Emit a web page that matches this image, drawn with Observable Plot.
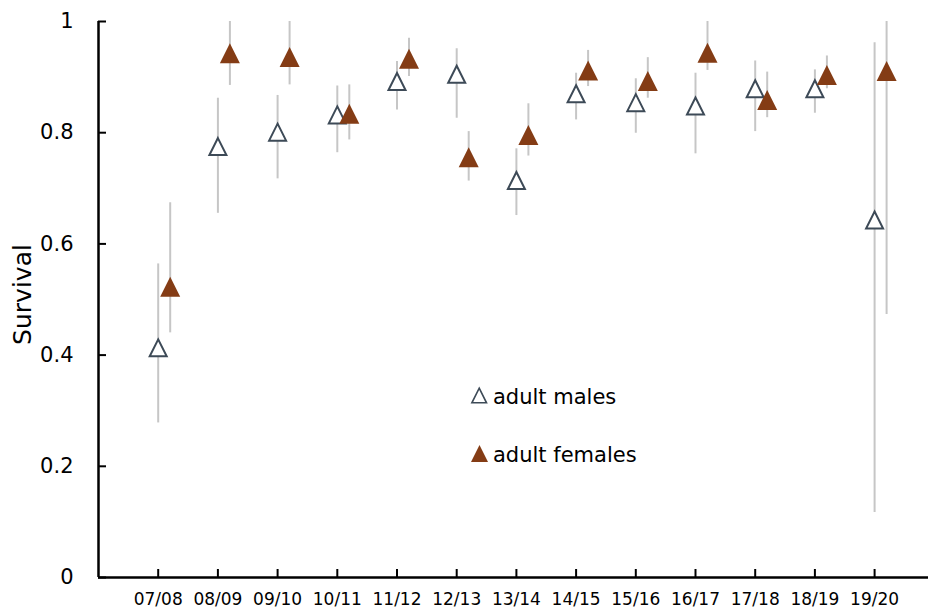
<!DOCTYPE html>
<html>
<head>
<meta charset="utf-8">
<script src="https://cdn.jsdelivr.net/npm/d3@7"></script>
<script src="https://cdn.jsdelivr.net/npm/@observablehq/plot@0.6"></script>
<style>
  html, body { margin: 0; padding: 0; background: #fff; }
  #chart svg { display: block; }
</style>
</head>
<body>
<div id="chart"></div>
<script>
const years = ["07/08","08/09","09/10","10/11","11/12","12/13","13/14","14/15","15/16","16/17","17/18","18/19","19/20"];
const maleS  = [0.413,0.775,0.801,0.832,0.892,0.905,0.714,0.870,0.854,0.848,0.879,0.879,0.643];
const maleLo = [0.278,0.655,0.717,0.764,0.841,0.826,0.651,0.823,0.799,0.762,0.802,0.835,0.117];
const maleHi = [0.564,0.862,0.867,0.884,0.928,0.951,0.771,0.907,0.897,0.907,0.929,0.913,0.962];
const femS   = [0.523,0.943,0.936,0.834,0.933,0.756,0.796,0.912,0.893,0.944,0.859,0.904,0.911];
const femLo  = [0.440,0.885,0.886,0.787,0.901,0.713,0.758,0.883,0.862,0.912,0.827,0.879,0.473];
const femHi  = [0.674,1.000,1.000,0.886,0.970,0.802,0.852,0.948,0.935,1.000,0.909,0.938,1.000];
const yTicks = [0, 0.2, 0.4, 0.6, 0.8, 1];
const legendLabels = ["adult males", "adult females"];

const males = years.map((y, k) => ({i: k + 1, s: maleS[k], lo: maleLo[k], hi: maleHi[k]}));
const fems  = years.map((y, k) => ({i: k + 1, s: femS[k], lo: femLo[k], hi: femHi[k]}));
const xIdx = years.map((y, k) => k + 1);

const tri = {draw(ctx, size) {
  const r = Math.sqrt(size / Math.PI);
  ctx.moveTo(0, -r); ctx.lineTo(r, r); ctx.lineTo(-r, r); ctx.closePath();
}};

const maleColor = "#3d4a57", femColor = "#843c15", barColor = "#c6c6c6";
const W = 928, H = 613, mL = 98, mR = 0;
const step = 59.7;

const chart = Plot.plot({
  width: W, height: H,
  marginLeft: mL, marginRight: mR, marginTop: 21, marginBottom: 36,
  style: {fontFamily: "DejaVu Sans", background: "#fff", color: "#000"},
  x: {type: "linear", domain: [0, (W - mL - mR) / step]},
  y: {domain: [0, 1]},
  marks: [
    Plot.axisY({ticks: yTicks, tickSize: 0, tickPadding: 25, fontSize: 21,
      tickFormat: d => d === 0 ? "0" : d === 1 ? "1" : d.toFixed(1), label: null}),
    Plot.axisX({ticks: xIdx, tickSize: 0, tickPadding: 15, fontSize: 17,
      tickFormat: i => years[i - 1], label: null}),
    Plot.tickY(yTicks, {y: d => d, stroke: "#000", strokeWidth: 2, insetRight: (W - mL - mR) - 8}),
    Plot.tickX(xIdx, {x: d => d, stroke: "#000", strokeWidth: 2, insetTop: (H - 21 - 36) - 8}),
    Plot.ruleY([0], {stroke: "#000", strokeWidth: 2.5}),
    Plot.ruleX([0], {stroke: "#000", strokeWidth: 2.5}),
    Plot.text(["Survival"], {frameAnchor: "left", textAnchor: "middle", lineAnchor: "middle", rotate: -90, dx: -76, dy: -5, fontSize: 25, fill: "#000"}),
    Plot.ruleX(males, {x: "i", y1: "lo", y2: "hi", stroke: barColor, strokeWidth: 2}),
    Plot.ruleX(fems, {x: "i", y1: "lo", y2: "hi", stroke: barColor, strokeWidth: 2, dx: 12}),
    Plot.dot(males, {x: "i", y: "s", symbol: tri, r: 8.5, fill: "#fff", stroke: maleColor, strokeWidth: 2}),
    Plot.dot(fems, {x: "i", y: "s", symbol: tri, r: 10, fill: femColor, stroke: "none", dx: 12}),
    // legend
    Plot.dot([legendLabels[0]], {frameAnchor: "top-left", dx: 380.7, dy: 374, symbol: tri, r: 7.3, fill: "#fff", stroke: maleColor, strokeWidth: 1.6}),
    Plot.dot([legendLabels[1]], {frameAnchor: "top-left", dx: 381, dy: 432, symbol: tri, r: 8.5, fill: femColor, stroke: "none"}),
    Plot.text([legendLabels[0]], {frameAnchor: "top-left", text: d => d, dx: 394.5, dy: 375.3, textAnchor: "start", lineAnchor: "middle", fontSize: 21, fill: "#000"}),
    Plot.text([legendLabels[1]], {frameAnchor: "top-left", text: d => d, dx: 394.5, dy: 434, textAnchor: "start", lineAnchor: "middle", fontSize: 21, fill: "#000"})
  ]
});
document.getElementById("chart").appendChild(chart);
</script>
</body>
</html>
